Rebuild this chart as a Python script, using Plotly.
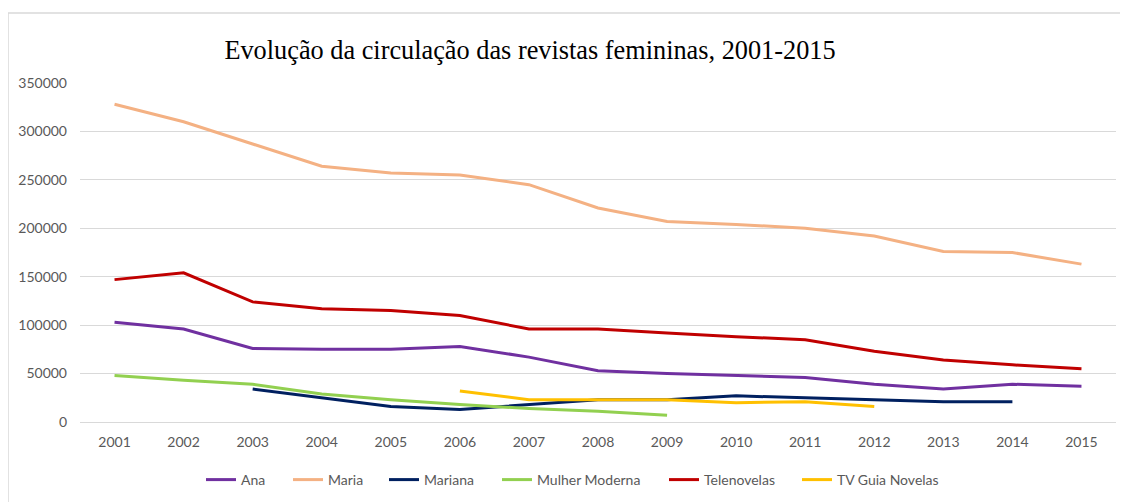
import plotly.graph_objects as go

years = [str(y) for y in range(2001, 2016)]

ana = [103000, 96000, 76000, 75000, 75000, 78000, 67000, 53000, 50000, 48000, 46000, 39000, 34000, 39000, 37000]
maria = [328000, 310000, 287000, 264000, 257000, 255000, 245000, 221000, 207000, 204000, 200000, 192000, 176000, 175000, 163000]
mariana = [None, None, 34000, 25000, 16000, 13000, 18000, 23000, 23000, 27000, 25000, 23000, 21000, 21000, None]
mulher_moderna = [48000, 43000, 39000, 29000, 23000, 18000, 14000, 11000, 7000, None, None, None, None, None, None]
telenovelas = [147000, 154000, 124000, 117000, 115000, 110000, 96000, 96000, 92000, 88000, 85000, 73000, 64000, 59000, 55000]
tv_guia = [None, None, None, None, None, 32000, 23000, 23000, 23000, 20000, 21000, 16000, None, None, None]

series = [
    ("Ana", ana, "#7030A0"),
    ("Maria", maria, "#F4B183"),
    ("Mariana", mariana, "#002060"),
    ("Mulher Moderna", mulher_moderna, "#92D050"),
    ("Telenovelas", telenovelas, "#C00000"),
    ("TV Guia Novelas", tv_guia, "#FFC000"),
]

# screen x where each legend entry starts
legend_starts = [201, 288, 384, 497, 664, 797]

W, H = 1128, 502
O = 8  # page offset of the figure in the browser
L, R, T, B = 72, 20, 75, 88
pw, ph = W - L - R, H - T - B

def px_x(sx):
    return (sx - O - L) / pw

def px_y(sy):
    return (H - B - (sy - O)) / ph

fig = go.Figure()
legend_layout = {}
for i, (name, vals, color) in enumerate(series):
    key = "legend" if i == 0 else f"legend{i + 1}"
    fig.add_trace(go.Scatter(x=years, y=vals, name=name, mode="lines",
                             line=dict(color=color, width=3), legend=key))
    legend_layout[key] = dict(orientation="h", x=px_x(legend_starts[i]), xref="paper",
                              xanchor="left", y=px_y(480), yref="paper", yanchor="middle",
                              font=dict(size=14, color="#595959"), itemwidth=30,
                              bgcolor="rgba(0,0,0,0)", borderwidth=0)

fig.update_layout(
    width=W, height=H,
    margin=dict(l=L, r=R, t=T, b=B, autoexpand=False),
    paper_bgcolor="white", plot_bgcolor="white",
    font=dict(family="Lato, Open Sans, sans-serif", color="#595959", size=14),
    title=dict(text="Evolução da circulação das revistas femininas, 2001-2015",
               font=dict(family="Liberation Serif, Times New Roman, serif", size=26.3, color="black"),
               x=(530 - O) / W, xanchor="center", xref="container",
               y=1 - (50 - O) / H, yanchor="middle", yref="container"),
    xaxis=dict(type="category", showgrid=False, zeroline=False, showline=False,
               ticks="", tickfont=dict(size=14, color="#595959"), range=[-0.5, 14.5],
               tickangle=0, automargin=False, ticklabelstandoff=10),
    yaxis=dict(range=[0, 350000], dtick=50000, showgrid=True, gridcolor="#D9D9D9",
               gridwidth=1, zeroline=True, zerolinecolor="#D9D9D9", zerolinewidth=1,
               showline=False, ticks="", tickformat="d", automargin=False,
               tickfont=dict(size=14, color="#595959"), ticklabelstandoff=12),
    showlegend=True,
    **legend_layout,
)

fig.add_shape(type="rect", xref="paper", yref="paper",
              x0=px_x(8), x1=px_x(1145), y0=px_y(510), y1=px_y(13),
              line=dict(color="#D9D9D9", width=1.5), fillcolor="rgba(0,0,0,0)", layer="below")

fig.write_html("out.html")
